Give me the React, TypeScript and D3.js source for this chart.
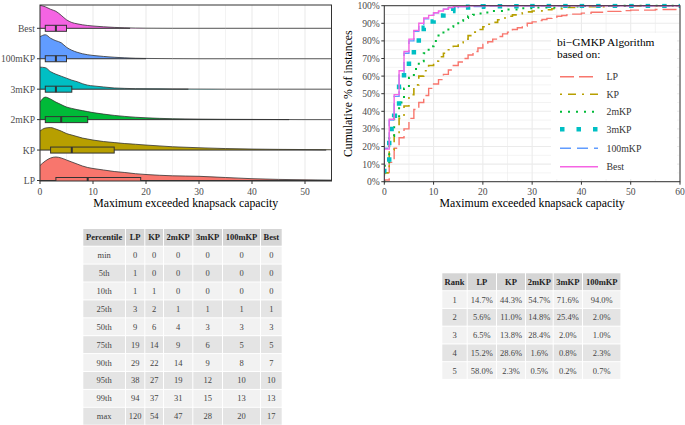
import React from 'react';
import * as d3 from 'd3';

// ---------- data ----------
const categories = ['LP', 'KP', '2mKP', '3mKP', '100mKP', 'Best'];
const seriesColors = ['#F8766D', '#B79F00', '#00BA38', '#00BFC4', '#619CFF', '#F564E3'];

// boxplot stats (min, q1, median, q3, max)
const boxMin = [0, 0, 0, 0, 0, 0];
const boxQ1 = [3, 2, 1, 1, 1, 1];
const boxMed = [9, 6, 4, 3, 3, 3];
const boxQ3 = [19, 14, 9, 6, 5, 5];
const boxMax = [120, 54, 47, 28, 20, 17];

// density ridges (relative density)
const densX = [0, 1, 2, 3, 4, 5, 6, 7, 8, 9, 10, 12, 14, 16, 18, 20, 25, 30, 35, 40, 45, 50, 55];
const densLP = [0.15, 0.195, 0.225, 0.235, 0.225, 0.205, 0.185, 0.165, 0.145, 0.13, 0.12, 0.105, 0.09, 0.08, 0.068, 0.06, 0.047, 0.042, 0.03, 0.018, 0.011, 0.007, 0.004];
const densKP = [0.19, 0.22, 0.225, 0.21, 0.19, 0.165, 0.15, 0.135, 0.12, 0.11, 0.1, 0.085, 0.075, 0.065, 0.058, 0.05, 0.033, 0.023, 0.015, 0.01, 0.007, 0.005, 0.003];
const dens2mKP = [0.175, 0.225, 0.205, 0.175, 0.15, 0.126, 0.112, 0.1, 0.09, 0.08, 0.07, 0.055, 0.042, 0.032, 0.024, 0.018, 0.009, 0.005, 0.003, 0.002, 0.001, 0, 0];
const dens3mKP = [0.22, 0.215, 0.175, 0.15, 0.13, 0.11, 0.09, 0.075, 0.055, 0.04, 0.033, 0.022, 0.012, 0.008, 0.005, 0.004, 0.002, 0.001, 0, 0, 0, 0, 0];
const dens100mKP = [0.22, 0.24, 0.205, 0.18, 0.16, 0.115, 0.085, 0.065, 0.05, 0.04, 0.033, 0.023, 0.015, 0.009, 0.005, 0.003, 0.001, 0, 0, 0, 0, 0, 0];
const densBest = [0.23, 0.215, 0.19, 0.17, 0.13, 0.085, 0.058, 0.045, 0.035, 0.028, 0.023, 0.015, 0.009, 0.005, 0.0025, 0.001, 0, 0, 0, 0, 0, 0, 0];
const densities = [densLP, densKP, dens2mKP, dens3mKP, dens100mKP, densBest];

// ECDF (x value, cumulative %)
const ecdfLP: [number, number][] = [[0, 1], [1, 11], [2, 19], [3, 25], [4, 30], [5, 36], [6, 41], [7, 45], [8, 49], [9, 53], [10, 55.5], [11, 58], [12, 61], [13, 63.5], [14, 66], [15, 68], [16, 70], [17, 72], [18, 74], [19, 76], [20, 78], [21, 79.5], [22, 81], [23, 82.5], [24, 84], [25, 85], [26, 86.5], [27, 87.5], [28, 88.5], [29, 90], [30, 90.8], [31, 91.5], [32, 92.2], [33, 92.8], [34, 93.4], [35, 94], [36, 94.4], [37, 94.8], [38, 95.2], [40, 95.8], [42, 96.3], [45, 96.8], [48, 97.2], [50, 97.5], [55, 97.8], [60, 98.1], [94, 99], [120, 100]];
const ecdfKP: [number, number][] = [[0, 5], [1, 18], [2, 28], [3, 36], [4, 43], [5, 49.5], [6, 55], [7, 60], [8, 63], [9, 66], [10, 68.5], [11, 71], [12, 73], [13, 75], [14, 77], [15, 79], [16, 81], [17, 83], [18, 85], [19, 86.5], [20, 88], [21, 89.5], [22, 90.5], [23, 92], [24, 93], [25, 94], [26, 94.8], [27, 95.5], [28, 96], [29, 96.5], [30, 97], [32, 97.7], [34, 98.3], [37, 99], [40, 99.4], [45, 99.7], [54, 100]];
const ecdf2mKP: [number, number][] = [[0, 9], [1, 26], [2, 36], [3, 45], [4, 53], [5, 59], [6, 64], [7, 68.5], [8, 73], [9, 77], [10, 80], [11, 83], [12, 85.5], [13, 88], [14, 90], [15, 91.5], [16, 93], [17, 94], [18, 94.8], [19, 95.5], [20, 96.2], [22, 97], [25, 97.8], [28, 98.5], [31, 99], [35, 99.5], [40, 99.8], [47, 100]];
const ecdf3mKP: [number, number][] = [[0, 11], [1, 30], [2, 37.5], [3, 54], [4, 62.5], [5, 71], [6, 78], [7, 84], [8, 87.5], [9, 91], [10, 93], [11, 94.5], [12, 96], [13, 97], [14, 98], [15, 99], [17, 99.4], [20, 99.7], [28, 100]];
const ecdf100mKP: [number, number][] = [[0, 19], [1, 35], [2, 48.5], [3, 62], [4, 73], [5, 80], [6, 85.5], [7, 89.5], [8, 92.5], [9, 94.5], [10, 96], [11, 97], [12, 98], [13, 99], [15, 99.5], [20, 100]];
const ecdfBest: [number, number][] = [[0, 18.5], [1, 35.5], [2, 49.5], [3, 63], [4, 74], [5, 81], [6, 86], [7, 90], [8, 93], [9, 94.5], [10, 96], [11, 97], [12, 98], [13, 99], [14, 99.5], [17, 100]];
const ecdfs = [ecdfLP, ecdfKP, ecdf2mKP, ecdf3mKP, ecdf100mKP, ecdfBest];

const xTicksLeft = [0, 10, 20, 30, 40, 50];
const xTicksRight = [0, 10, 20, 30, 40, 50, 60];
const yTicksRight = [0, 10, 20, 30, 40, 50, 60, 70, 80, 90, 100];

// percentile table
const pctLabels = ['min', '5th', '10th', '25th', '50th', '75th', '90th', '95th', '99th', 'max'];
const pctLP = [0, 1, 1, 3, 9, 19, 29, 38, 94, 120];
const pctKP = [0, 0, 1, 2, 6, 14, 22, 27, 37, 54];
const pct2mKP = [0, 0, 0, 1, 4, 9, 14, 19, 31, 47];
const pct3mKP = [0, 0, 0, 1, 3, 6, 9, 12, 15, 28];
const pct100mKP = [0, 0, 0, 1, 3, 5, 8, 10, 13, 20];
const pctBest = [0, 0, 0, 1, 3, 5, 7, 10, 13, 17];

// rank table
const ranks = [1, 2, 3, 4, 5];
const rankLP = [14.7, 5.6, 6.5, 15.2, 58.0];
const rankKP = [44.3, 11.0, 13.8, 28.6, 2.3];
const rank2mKP = [54.7, 14.8, 28.4, 1.6, 0.5];
const rank3mKP = [71.6, 25.4, 2.0, 0.8, 0.2];
const rank100mKP = [94.0, 2.0, 1.0, 2.3, 0.7];

// ---------- styles ----------
const FONT = '"Liberation Serif", "DejaVu Serif", serif';
const TICK_COLOR = '#4d4d4d';
const GRID = '#ebebeb';
const BORDER = '#333333';
const dashes = ['14,5', '2,6,8,6', '2,6', '4.5,12', '11,6', ''];
const widths = [1.4, 1.6, 2, 4.5, 1.4, 1.4];

function Table({ x0, y0, colW, headH, rowPitch, rowH, header, rows }: any) {
  const xs: number[] = [];
  let acc = x0;
  colW.forEach((w: number) => { xs.push(acc); acc += w + 1; });
  return (
    <g fontFamily={FONT} fontSize={8.5} fill="#333">
      {header.map((h: string, j: number) => (
        <g key={'h' + j}>
          <rect x={xs[j]} y={y0} width={colW[j]} height={headH} fill="#d5d5d5" />
          <text x={xs[j] + colW[j] / 2} y={y0 + headH / 2} textAnchor="middle" dominantBaseline="central" fontWeight="bold" fill="#222">{h}</text>
        </g>
      ))}
      {rows.map((r: string[], i: number) => {
        const ry = y0 + headH + 1 + i * rowPitch;
        return (
          <g key={'r' + i}>
            {r.map((c, j) => (
              <g key={j}>
                <rect x={xs[j]} y={ry} width={colW[j]} height={rowH} fill={i % 2 === 0 ? '#f2f2f2' : '#e4e4e4'} />
                <text x={xs[j] + colW[j] / 2} y={ry + rowH / 2} textAnchor="middle" dominantBaseline="central" fill="#444">{c}</text>
              </g>
            ))}
          </g>
        );
      })}
    </g>
  );
}

export default function App() {
  // ---- left panel ----
  const L = { left: 40, right: 331.5, top: 5, bottom: 181 };
  const xL = d3.scaleLinear().domain([0, 55]).range([L.left, L.right]);
  const yL = d3.scalePoint<string>().domain(categories).range([180.5, 28.3]);
  const hScale = d3.scaleLinear().domain([0, 0.1]).range([0, 10]);
  const minorL = d3.range(5, 56, 10);

  // ---- right panel ----
  const R = { left: 384.3, right: 680, top: 5.7, bottom: 181.7 };
  const xR = d3.scaleLinear().domain([0, 60]).range([R.left, R.right]);
  const yR = d3.scaleLinear().domain([0, 100]).range([R.bottom, R.top]);
  const minorRX = d3.range(5, 60, 10);
  const minorRY = d3.range(5, 100, 10);

  const stepLine = d3.line<[number, number]>().x(d => xR(d[0])).y(d => yR(d[1])).curve(d3.curveStepAfter);

  const legendY = [76.7, 94.3, 111.7, 129.3, 148.3, 166.7];

  const pctCols = [pctLP, pctKP, pct2mKP, pct3mKP, pct100mKP, pctBest];
  const pctRows = pctLabels.map((lab, i) => [lab, ...pctCols.map(c => String(c[i]))]);
  const rankCols = [rankLP, rankKP, rank2mKP, rank3mKP, rank100mKP];
  const fmt = d3.format('.1f');
  const rankRows = ranks.map((rk, i) => [String(rk), ...rankCols.map(c => fmt(c[i]) + '%')]);

  const drawOrder = [5, 4, 3, 2, 1, 0];

  return (
    <svg width={685} height={425} style={{ position: 'absolute', left: 0, top: 0, background: '#fff' }} fontFamily={FONT}>
      <defs>
        <clipPath id="clipL"><rect x={L.left} y={L.top} width={L.right - L.left} height={L.bottom - L.top} /></clipPath>
        <clipPath id="clipR"><rect x={R.left} y={R.top - 2} width={R.right - R.left} height={R.bottom - R.top + 3} /></clipPath>
      </defs>

      {/* ===== Left panel ===== */}
      <g>
        {minorL.map(v => <line key={'m' + v} x1={xL(v)} x2={xL(v)} y1={L.top} y2={L.bottom} stroke={GRID} strokeWidth={0.6} />)}
        {xTicksLeft.map(v => <line key={'g' + v} x1={xL(v)} x2={xL(v)} y1={L.top} y2={L.bottom} stroke={GRID} strokeWidth={1.1} />)}
        {categories.map(c => <line key={'gy' + c} x1={L.left} x2={L.right} y1={yL(c)} y2={yL(c)} stroke={GRID} strokeWidth={1.1} />)}
        <g clipPath="url(#clipL)">
          {drawOrder.map(i => {
            const c = categories[i];
            const base = yL(c)!;
            const dens = densities[i];
            const pts = densX.map((x, k) => [x, dens[k]] as [number, number]);
            const area = d3.area<[number, number]>().x(d => xL(d[0])).y0(base).y1(d => base - hScale(d[1])).curve(d3.curveMonotoneX);
            const top = d3.line<[number, number]>().x(d => xL(d[0])).y(d => base - hScale(d[1])).curve(d3.curveMonotoneX);
            const bh = 3;
            return (
              <g key={c}>
                <path d={area(pts)!} fill={seriesColors[i]} />
                <path d={top(pts)!} fill="none" stroke="#333" strokeWidth={0.8} />
                <line x1={xL(boxMin[i])} x2={xL(boxMax[i])} y1={base} y2={base} stroke="#333" strokeWidth={1} />
                <rect x={xL(boxQ1[i])} y={base - bh} width={xL(boxQ3[i]) - xL(boxQ1[i])} height={bh * 2} fill={seriesColors[i]} stroke="#333" strokeWidth={1} />
                <line x1={xL(boxMed[i])} x2={xL(boxMed[i])} y1={base - bh} y2={base + bh} stroke="#333" strokeWidth={2} />
              </g>
            );
          })}
        </g>
        <rect x={L.left} y={L.top} width={L.right - L.left} height={L.bottom - L.top} fill="none" stroke={BORDER} strokeWidth={1} />
        {categories.map(c => (
          <g key={'yt' + c}>
            <line x1={L.left - 3} x2={L.left} y1={yL(c)} y2={yL(c)} stroke={BORDER} />
            <text x={L.left - 5} y={yL(c)} textAnchor="end" dominantBaseline="central" fontSize={9.6} fill={TICK_COLOR}>{c}</text>
          </g>
        ))}
        {xTicksLeft.map(v => (
          <g key={'xt' + v}>
            <line x1={xL(v)} x2={xL(v)} y1={L.bottom} y2={L.bottom + 3} stroke={BORDER} />
            <text x={xL(v)} y={L.bottom + 10.5} textAnchor="middle" dominantBaseline="central" fontSize={9.6} fill={TICK_COLOR}>{v}</text>
          </g>
        ))}
        <text x={(L.left + L.right) / 2} y={203} textAnchor="middle" dominantBaseline="central" fontSize={11.8} fill="#000">Maximum exceeded knapsack capacity</text>
      </g>

      {/* ===== Right panel ===== */}
      <g>
        {minorRX.map(v => <line key={'mx' + v} x1={xR(v)} x2={xR(v)} y1={R.top} y2={R.bottom} stroke={GRID} strokeWidth={0.6} />)}
        {minorRY.map(v => <line key={'my' + v} x1={R.left} x2={R.right} y1={yR(v)} y2={yR(v)} stroke={GRID} strokeWidth={0.6} />)}
        {xTicksRight.map(v => <line key={'gx' + v} x1={xR(v)} x2={xR(v)} y1={R.top} y2={R.bottom} stroke={GRID} strokeWidth={1.1} />)}
        {yTicksRight.map(v => <line key={'gy' + v} x1={R.left} x2={R.right} y1={yR(v)} y2={yR(v)} stroke={GRID} strokeWidth={1.1} />)}
        <g clipPath="url(#clipR)">
          {ecdfs.map((e, i) => {
            const pts: [number, number][] = [[-5, 0], ...e, [500, 100]];
            return <path key={'e' + i} d={stepLine(pts)!} fill="none" stroke={seriesColors[i]} strokeWidth={widths[i]} strokeDasharray={dashes[i] || undefined} />;
          })}
        </g>
        <rect x={R.left} y={R.top} width={R.right - R.left} height={R.bottom - R.top} fill="none" stroke={BORDER} strokeWidth={1} />
        {/* legend */}
        <rect x={551} y={33} width={126} height={146} fill="#fff" />
        <text x={557} y={42} dominantBaseline="central" fontSize={11.4} fill="#000">bi−GMKP Algorithm</text>
        <text x={557} y={54} dominantBaseline="central" fontSize={11.4} fill="#000">based on:</text>
        {categories.map((c, i) => (
          <g key={'lg' + c}>
            <line x1={560} x2={598} y1={legendY[i]} y2={legendY[i]} stroke={seriesColors[i]} strokeWidth={widths[i]} strokeDasharray={dashes[i] || undefined} />
            <text x={606.5} y={legendY[i]} dominantBaseline="central" fontSize={9.8} fill="#333">{c}</text>
          </g>
        ))}
        {yTicksRight.map(v => (
          <g key={'yt' + v}>
            <line x1={R.left - 3} x2={R.left} y1={yR(v)} y2={yR(v)} stroke={BORDER} />
            <text x={R.left - 4.5} y={yR(v)} textAnchor="end" dominantBaseline="central" fontSize={9.6} fill={TICK_COLOR}>{v + '%'}</text>
          </g>
        ))}
        {xTicksRight.map(v => (
          <g key={'xt' + v}>
            <line x1={xR(v)} x2={xR(v)} y1={R.bottom} y2={R.bottom + 3} stroke={BORDER} />
            <text x={xR(v)} y={R.bottom + 10} textAnchor="middle" dominantBaseline="central" fontSize={9.6} fill={TICK_COLOR}>{v}</text>
          </g>
        ))}
        <text x={(R.left + R.right) / 2} y={203} textAnchor="middle" dominantBaseline="central" fontSize={11.8} fill="#000">Maximum exceeded knapsack capacity</text>
        <text transform={`translate(347.5, ${(R.top + R.bottom) / 2}) rotate(-90)`} textAnchor="middle" dominantBaseline="central" fontSize={11.8} fill="#000">Cumulative % of instances</text>
      </g>

      {/* ===== Tables ===== */}
      <Table x0={83.3} y0={229} colW={[41.7, 18.3, 17.7, 28.3, 28.7, 37, 20.7]} headH={16.7} rowPitch={17.9} rowH={16.9}
        header={['Percentile', ...categories]} rows={pctRows} />
      <Table x0={442.3} y0={273.3} colW={[24.4, 28.3, 28, 26.7, 28.3, 37.4]} headH={16.9} rowPitch={17.75} rowH={16.7}
        header={['Rank', 'LP', 'KP', '2mKP', '3mKP', '100mKP']} rows={rankRows} />
    </svg>
  );
}
